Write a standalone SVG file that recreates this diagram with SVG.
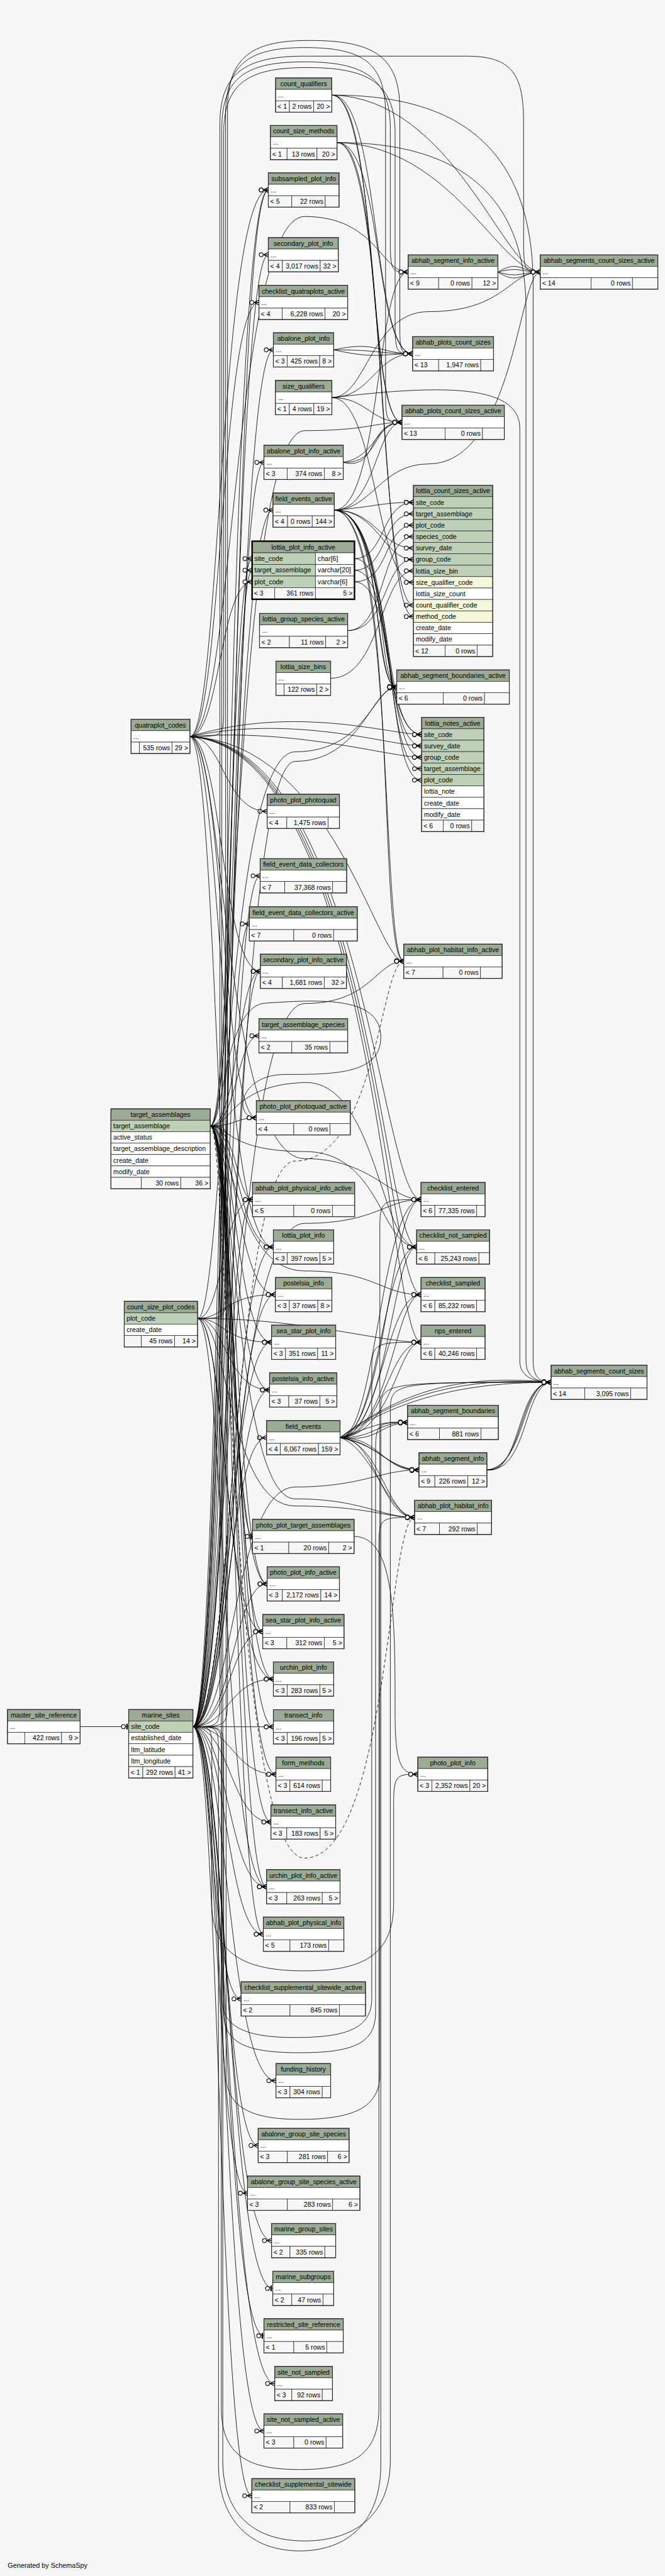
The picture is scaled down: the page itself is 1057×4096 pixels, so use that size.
<svg xmlns="http://www.w3.org/2000/svg" width="1057" height="4096" viewBox="0 0 1057 4096">
<style>
.t{font-family:"Liberation Sans",Arial,Helvetica,sans-serif;font-size:14px;fill:#000}
.c{text-anchor:middle}
.r{text-anchor:end}
.h{fill:#9bab96;stroke:#2a2a2a;stroke-width:1}
.k{fill:#bed1b8;stroke:#2a2a2a;stroke-width:1}
.i{fill:#f4f7da;stroke:#2a2a2a;stroke-width:1}
.w{fill:#ffffff;stroke:#2a2a2a;stroke-width:1}
.f{fill:#f7f7f7;stroke:#2a2a2a;stroke-width:1}
.o{fill:none;stroke:#2a2a2a;stroke-width:1.6}
.b{fill:none;stroke:#000;stroke-width:3.2}
path.e{fill:none;stroke:#000;stroke-width:1.1;marker-end:url(#cf)}
path.z{marker-end:url(#zo)}
path.d{stroke-dasharray:7 5}
</style>
<defs>
<marker id="cf" markerUnits="userSpaceOnUse" markerWidth="40" markerHeight="20" viewBox="-30 -10 40 20" refX="0" refY="0" orient="auto" overflow="visible">
<path d="M-10 0L0 -5M-10 0L0 0M-10 0L0 5" fill="none" stroke="#000" stroke-width="1.5"/>
<circle cx="-15" cy="0" r="4.2" fill="#f7f7f7" stroke="#000" stroke-width="1.4"/>
</marker>
<marker id="zo" markerUnits="userSpaceOnUse" markerWidth="40" markerHeight="20" viewBox="-30 -10 40 20" refX="0" refY="0" orient="auto" overflow="visible">
<rect x="-5" y="-6" width="3" height="12" fill="#000"/>
<circle cx="-11" cy="0" r="4.2" fill="#f7f7f7" stroke="#000" stroke-width="1.4"/>
</marker>
</defs>
<rect width="1057" height="4096" fill="#f7f7f7"/>
<g transform="scale(0.7566)">
<g id="connectors">
<path class="e" d="M405.3 3628.7C470 3628.7 470 399.3 563.7 399.3"/>
<path class="e" d="M405.3 3628.7C475 3628.7 475 535.3 563.7 535.3"/>
<path class="e" d="M405.3 3628.7C480 3628.7 480 735.3 574.3 735.3"/>
<path class="e" d="M405.3 3628.7C478 3628.7 478 971.7 554.5 971.7"/>
<path class="e" d="M405.3 3628.7C472 3628.7 472 1072 573.4 1072"/>
<path class="e" d="M405.3 3628.7C468 3628.7 468 1174 529.6 1174"/>
<path class="e" d="M405.3 3628.7C476 3628.7 476 1840.6 546.5 1840.6"/>
<path class="e" d="M405.3 3628.7C470 3628.7 470 1941.6 523.8 1941.6"/>
<path class="e" d="M405.3 3628.7C483 3628.7 483 2041.3 546.9 2041.3"/>
<path class="e" d="M405.3 3628.7C474 3628.7 474 2521 530.5 2521"/>
<path class="e" d="M405.3 3628.7C485 3628.7 485 2620.7 574.3 2620.7"/>
<path class="e" d="M405.3 3628.7C488 3628.7 488 2720.7 578.5 2720.7"/>
<path class="e" d="M405.3 3628.7C482 3628.7 482 2820.9 570.5 2820.9"/>
<path class="e" d="M405.3 3628.7C486 3628.7 486 2921.1 566.3 2921.1"/>
<path class="e" d="M405.3 3628.7C478 3628.7 478 3021.4 560 3021.4"/>
<path class="e" d="M405.3 3628.7C490 3628.7 490 3328.7 561.2 3328.7"/>
<path class="e" d="M405.3 3628.7C484 3628.7 484 3429 552 3429"/>
<path class="e" d="M405.3 3628.7C480 3628.7 480 3528.7 574.3 3528.7"/>
<path class="e" d="M405.3 3628.7L574.3 3629.1"/>
<path class="e" d="M405.3 3628.7C488 3628.7 488 3728.8 579.7 3728.8"/>
<path class="e" d="M405.3 3628.7C484 3628.7 484 3829.1 569.2 3829.1"/>
<path class="e" d="M405.3 3628.7C480 3628.7 480 3965.2 560 3965.2"/>
<path class="e" d="M405.3 3628.7C476 3628.7 476 4064.9 553.2 4064.9"/>
<path class="e" d="M405.3 3628.7C445 3628.7 445 4200.9 506.5 4200.9"/>
<path class="e" d="M405.3 3628.7C478 3628.7 478 4372.7 579.7 4372.7"/>
<path class="e" d="M405.3 3628.7C470 3628.7 470 4508.9 542.3 4508.9"/>
<path class="e" d="M405.3 3628.7C455 3628.7 455 4609.2 520 4609.2"/>
<path class="e" d="M405.3 3628.7C474 3628.7 474 4708.9 570.5 4708.9"/>
<path class="e z" d="M405.3 3628.7C478 3628.7 478 4809.2 573 4809.2"/>
<path class="e z" d="M405.3 3628.7C472 3628.7 472 4908.9 554.5 4908.9"/>
<path class="e" d="M405.3 3628.7C476 3628.7 476 5009.2 577.2 5009.2"/>
<path class="e" d="M405.3 3628.7C470 3628.7 470 5108.9 554.5 5108.9"/>
<path class="e" d="M405.3 3628.7C460 3628.7 460 5245 529 5245"/>
<path class="e" d="M441.7 2366.3C495 2366.3 495 399.3 563.7 399.3"/>
<path class="e" d="M441.7 2366.3C492 2366.3 492 1198.4 529.6 1198.4"/>
<path class="e" d="M441.7 2366.3C500 2366.3 500 2041.3 546.9 2041.3"/>
<path class="e" d="M441.7 2366.3C498 2366.3 498 2176.8 544 2176.8"/>
<path class="e" d="M441.7 2366.3C495 2366.3 495 2349.2 538.5 2349.2"/>
<path class="e" d="M441.7 2366.3C498 2366.3 498 2521 530.5 2521"/>
<path class="e" d="M441.7 2366.3C500 2366.3 500 2620.7 574.3 2620.7"/>
<path class="e" d="M441.7 2366.3C497 2366.3 497 2720.7 578.5 2720.7"/>
<path class="e" d="M441.7 2366.3C495 2366.3 495 2820.9 570.5 2820.9"/>
<path class="e" d="M441.7 2366.3C493 2366.3 493 2921.1 566.3 2921.1"/>
<path class="e z" d="M441.7 2366.3C490 2366.3 490 3229 530.5 3229"/>
<path class="e" d="M441.7 2366.3C496 2366.3 496 3328.7 561.2 3328.7"/>
<path class="e" d="M441.7 2366.3C494 2366.3 494 3429 552 3429"/>
<path class="e" d="M441.7 2366.3C492 2366.3 492 3528.7 574.3 3528.7"/>
<path class="e" d="M441.7 2366.3C496 2366.3 496 3629.1 574.3 3629.1"/>
<path class="e" d="M441.7 2366.3C494 2366.3 494 3728.8 579.7 3728.8"/>
<path class="e" d="M441.7 2366.3C492 2366.3 492 3829.1 569.2 3829.1"/>
<path class="e" d="M441.7 2366.3C494 2366.3 494 3965.2 560 3965.2"/>
<path class="e" d="M441.7 2366.3C490 2366.3 490 4064.9 553.2 4064.9"/>
<path class="e" d="M399 1548C462 1548 462 399.3 563.7 399.3"/>
<path class="e" d="M399 1548C465 1548 465 635.6 544 635.6"/>
<path class="e" d="M399 1548C462 1548 462 1222.8 529.6 1222.8"/>
<path class="e" d="M399 1548C470 1548 470 1705 561.2 1705"/>
<path class="e" d="M399 1548C466 1548 466 2041.3 546.9 2041.3"/>
<path class="e" d="M399 1548C468 1548 468 2349.2 538.5 2349.2"/>
<path class="e" d="M399 1548C464 1548 464 2620.7 574.3 2620.7"/>
<path class="e" d="M399 1548C462 1548 462 3328.7 561.2 3328.7"/>
<path class="e" d="M415 2770.8C472 2770.8 472 2720.7 578.5 2720.7"/>
<path class="e" d="M415 2770.8C470 2770.8 470 2820.9 570.5 2820.9"/>
<path class="e" d="M415 2770.8C474 2770.8 474 2921.1 566.3 2921.1"/>
<path class="e" d="M415 2770.8C472 2770.8 472 3429 552 3429"/>
<path class="e" d="M415 2770.8C476 2770.8 476 3528.7 574.3 3528.7"/>
<path class="e" d="M415 2770.8C470 2770.8 470 3965.2 560 3965.2"/>
<path class="e" d="M415 2770.8C468 2770.8 468 2521 530.5 2521"/>
<path class="e z" d="M168.3 3628.7L270.3 3628.7"/>
<path class="e" d="M697.2 199.8C800 199.8 780 743.5 866.8 743.5"/>
<path class="e" d="M697.2 199.8C795 199.8 770 887.6 844.5 887.6"/>
<path class="e" d="M697.2 199.8C810 199.8 790 1271.8 868.5 1271.8"/>
<path class="e" d="M697.2 199.8C950 205 1060 571.7 1135 571.7"/>
<path class="e" d="M697.2 199.8C900 199.8 1120 260 1120 600L1120 2860C1120 2895 1135 2905 1157.7 2905"/>
<path class="e" d="M708 299.6C805 299.6 785 743.5 866.8 743.5"/>
<path class="e" d="M708 299.6C800 299.6 775 887.6 844.5 887.6"/>
<path class="e" d="M708 299.6C815 299.6 795 1295.8 868.5 1295.8"/>
<path class="e" d="M708 299.6C950 305 1050 571.7 1135 571.7"/>
<path class="e" d="M708 299.6C900 299.6 1105 360 1105 650L1105 2860C1105 2895 1130 2905 1157.7 2905"/>
<path class="e" d="M697.2 835.6C780 835.6 790 743.5 866.8 743.5"/>
<path class="e" d="M697.2 835.6C770 835.6 780 887.6 844.5 887.6"/>
<path class="e" d="M697.2 835.6C790 835.6 790 1223.8 868.5 1223.8"/>
<path class="e" d="M697.2 835.6C900 812 1092 800 1092 900L1092 2860C1092 2895 1125 2905 1157.7 2905"/>
<path class="e" d="M697.2 835.6C770 835.6 780 655 900 655C1060 655 1070 571.7 1135 571.7"/>
<path class="e" d="M701 735.3C790 715 800 743.5 866.8 743.5"/>
<path class="e" d="M701 735.3C790 735 800 743.5 866.8 743.5"/>
<path class="e" d="M701 735.3C790 755 800 743.5 866.8 743.5"/>
<path class="e" d="M721.1 971.7C790 960 790 887.6 844.5 887.6"/>
<path class="e" d="M721.1 971.7C800 975 780 887.6 844.5 887.6"/>
<path class="e" d="M721.1 971.7C795 990 770 887.6 844.5 887.6"/>
<path class="e" d="M702.2 1072C790 1065 800 1055.8 868.5 1055.8"/>
<path class="e" d="M702.2 1072C790 1072 800 1151.8 868.5 1151.8"/>
<path class="e" d="M702.2 1072C795 1072 805 1175.8 868.5 1175.8"/>
<path class="e" d="M702.2 1072C820 1072 790 1543.6 885.7 1543.6"/>
<path class="e" d="M702.2 1072C825 1072 795 1567.6 885.7 1567.6"/>
<path class="e" d="M702.2 1072C830 1072 800 1591.6 885.7 1591.6"/>
<path class="e" d="M702.2 1072C810 1072 780 1443.9 833.5 1443.9"/>
<path class="e" d="M702.2 1072C815 1080 790 1440 833.5 1443.9"/>
<path class="e" d="M702.2 1072C805 1070 785 1450 833.5 1443.9"/>
<path class="e" d="M702.2 1072C800 1072 790 571.7 857.5 571.7"/>
<path class="e" d="M702.2 1072C790 1072 790 887.6 844.5 887.6"/>
<path class="e" d="M702.2 1072C830 1072 800 2020.2 848.2 2020.2"/>
<path class="e" d="M702.2 1072C840 1080 790 2015 848.2 2020.2"/>
<path class="e" d="M702.2 1072C780 1072 800 975 900 975C1080 975 1090 571.7 1135 571.7"/>
<path class="e" d="M744.7 1174C810 1174 800 1055.8 868.5 1055.8"/>
<path class="e" d="M744.7 1174C830 1174 800 1543.6 885.7 1543.6"/>
<path class="e" d="M744.7 1198.4C815 1198.4 800 1079.8 868.5 1079.8"/>
<path class="e" d="M744.7 1198.4C835 1198.4 805 1615.6 885.7 1615.6"/>
<path class="e" d="M744.7 1222.8C820 1222.8 805 1103.8 868.5 1103.8"/>
<path class="e" d="M744.7 1222.8C840 1222.8 810 1639.6 885.7 1639.6"/>
<path class="e" d="M730.4 1325.2C810 1325.2 800 1127.8 868.5 1127.8"/>
<path class="e" d="M730.4 1325.2C815 1325.2 805 1175.8 868.5 1175.8"/>
<path class="e" d="M694.6 1425.5C800 1425.5 800 1199.8 868.5 1199.8"/>
<path class="e" d="M399 1548C620 1480 820 1543.6 885.7 1543.6"/>
<path class="e" d="M399 1548C620 1500 820 1567.6 885.7 1567.6"/>
<path class="e" d="M399 1548C620 1530 820 1591.6 885.7 1591.6"/>
<path class="e" d="M399 1548C700 1560 790 2020.2 848.2 2020.2"/>
<path class="e" d="M399 1548C760 1560 800 2521 884.4 2521"/>
<path class="e" d="M399 1548C770 1565 805 2620.7 875.2 2620.7"/>
<path class="e" d="M399 1548C780 1570 810 2720.7 884.4 2720.7"/>
<path class="e" d="M399 1548C790 1575 815 2820.9 884.4 2820.9"/>
<path class="e" d="M714.4 3021.4C790 3021 800 2521 884.4 2521"/>
<path class="e" d="M714.4 3021.4C810 3010 820 2521 884.4 2521"/>
<path class="e" d="M714.4 3021.4C795 3021 805 2620.7 875.2 2620.7"/>
<path class="e" d="M714.4 3021.4C815 3015 825 2620.7 875.2 2620.7"/>
<path class="e" d="M714.4 3021.4C800 3021 810 2720.7 884.4 2720.7"/>
<path class="e" d="M714.4 3021.4C820 3015 830 2720.7 884.4 2720.7"/>
<path class="e" d="M714.4 3021.4C805 3021 815 2820.9 884.4 2820.9"/>
<path class="e" d="M714.4 3021.4C825 3015 835 2820.9 884.4 2820.9"/>
<path class="e" d="M714.4 3021.4C790 3021.4 790 2989.4 856.2 2989.4"/>
<path class="e" d="M714.4 3021.4C780 3000 800 2985 856.2 2989.4"/>
<path class="e" d="M714.4 3021.4C800 3030 790 2995 856.2 2989.4"/>
<path class="e" d="M714.4 3021.4C800 3021.4 800 3089.1 880.2 3089.1"/>
<path class="e" d="M714.4 3021.4C790 3030 810 3085 880.2 3089.1"/>
<path class="e" d="M714.4 3021.4C810 3040 820 3095 880.2 3089.1"/>
<path class="e" d="M714.4 3021.4C790 3021.4 800 3188.9 871 3188.9"/>
<path class="e" d="M714.4 3021.4C800 3030 810 3185 871 3188.9"/>
<path class="e" d="M714.4 3021.4C780 3040 820 3192 871 3188.9"/>
<path class="e" d="M714.4 3021.4C850 2920 1000 2895 1157.7 2905"/>
<path class="e" d="M714.4 3021.4C850 2930 1000 2905 1157.7 2905"/>
<path class="e" d="M714.4 3021.4C860 2910 990 2890 1157.7 2905"/>
<path class="e" d="M743.9 3229C830 3229 830 3400 830 3600C830 3700 840 3728.8 877.7 3728.8"/>
<path class="e" d="M1046 571.7C1090 545 1095 571.7 1135 571.7"/>
<path class="e" d="M1046 571.7C1090 560 1095 571.7 1135 571.7"/>
<path class="e" d="M1046 571.7C1090 585 1095 571.7 1135 571.7"/>
<path class="e" d="M1046 571.7C1090 600 1095 571.7 1135 571.7"/>
<path class="e" d="M1022.9 3089.1C1100 3089.1 1090 2905 1157.7 2905"/>
<path class="e" d="M1022.9 3089.1C1105 3080 1095 2905 1157.7 2905"/>
<path class="e" d="M1022.9 3089.1C1110 3095 1100 2910 1157.7 2905"/>
<path class="e" d="M1022.9 3089.1C1095 3100 1085 2905 1157.7 2905"/>
<path class="e" d="M405.3 3628.7C459 3628.7 459 3628.7 459 3690L459 5180C459 5300 530 5361 630 5361C730 5361 800 5300 800 5180L800 2965C800 2905 805 2905 1157.7 2905"/>
<path class="e" d="M441.7 2366.3C468 2366.3 468 2366.3 468 2420L468 5170C468 5290 540 5340 640 5340C740 5340 820 5290 820 5170L820 2965C820 2905 830 2905 1157.7 2905"/>
<path class="e" d="M441.7 2366.3C465 2366.3 465 2366.3 465 2420L465 5060C465 5160 520 5190 630 5190C740 5190 796 5160 796 5060L796 3250C796 3188.9 800 3188.9 871 3188.9"/>
<path class="e" d="M441.7 2366.3C475 2366.3 475 2366.3 475 2420L475 4360C475 4430 530 4454 630 4454C740 4454 798 4430 798 4360L798 2580C798 2521 805 2521 884.4 2521"/>
<path class="e" d="M405.3 3628.7C470 3628.7 470 3628.7 470 3690L470 4230C470 4295 520 4314 630 4314C740 4314 789 4295 789 4230L789 3050C789 2989.4 795 2989.4 856.2 2989.4"/>
<path class="e" d="M405.3 3628.7C466 3628.7 466 3628.7 466 3690L466 4200C466 4262 520 4282 620 4282C730 4282 781 4262 781 4200L781 2880C781 2820.9 790 2820.9 884.4 2820.9"/>
<path class="e" d="M405.3 3628.7C445 3628.7 445 3628.7 445 3690L445 4000C445 4110 520 4142 640 4142C760 4142 827 4110 827 4000L827 3790C827 3728.8 835 3728.8 877.7 3728.8"/>
<path class="e" d="M405.3 3628.7C490 3628.7 490 3125 620 3125C760 3125 800 3089.1 880.2 3089.1"/>
<path class="e" d="M441.7 2366.3C492 2366.3 492 3150 620 3150C760 3150 800 3188.9 871 3188.9"/>
<path class="e" d="M415 2770.8C480 2770.8 480 3165 620 3165C770 3165 810 3188.9 871 3188.9"/>
<path class="e" d="M399 1548C470 1548 470 2435 640 2435C780 2435 820 2521 884.4 2521"/>
<path class="e" d="M441.7 2366.3C480 2366.3 480 2420 640 2420C800 2420 800 2620.7 875.2 2620.7"/>
<path class="e" d="M441.7 2366.3C486 2366.3 486 2280 640 2275C790 2270 800 2620.7 875.2 2620.7"/>
<path class="e" d="M441.7 2366.3C470 2366.3 470 2109 560 2108C680 2100 800 2095 800 2180C800 2258 700 2258 600 2258C500 2258 490 2349.2 538.5 2349.2"/>
<path class="e" d="M405.3 3628.7C462 3628.7 462 3628.7 462 3560L462 260C462 150 520 118 640 118L980 118C1080 118 1100 160 1100 260L1100 510C1100 571.7 1105 571.7 1135 571.7"/>
<path class="e" d="M441.7 2366.3C466 2366.3 466 2366.3 466 2300L466 270C466 160 520 130 640 130C760 130 820 160 820 270L820 510C820 571.7 825 571.7 857.5 571.7"/>
<path class="e" d="M399 1548C470 1548 470 1548 470 1490L470 280C470 172 525 142 645 142C770 142 830 172 830 280L830 680C830 743.5 835 743.5 866.8 743.5"/>
<path class="e" d="M415 2770.8C474 2770.8 474 2770.8 474 2710L474 240C474 130 530 100 640 100C760 100 810 130 810 240L810 830C810 887.6 815 887.6 844.5 887.6"/>
<path class="e" d="M405.3 3628.7C478 3628.7 478 3628.7 478 3560L478 230C478 115 535 85 650 85C780 85 840 115 840 230L840 690C840 743.5 845 743.5 866.8 743.5"/>
<path class="e" d="M399 1548C490 1548 490 455 640 455C790 455 800 571.7 857.5 571.7"/>
<path class="e" d="M441.7 2366.3C495 2366.3 495 905 640 905C770 905 790 887.6 844.5 887.6"/>
<path class="e" d="M405.3 3628.7C485 3628.7 485 1600 620 1600C760 1600 780 1443.9 833.5 1443.9"/>
<path class="e" d="M405.3 3628.7C480 3628.7 480 2109 640 2109C780 2109 790 2020.2 848.2 2020.2"/>
<path class="e" d="M415 2770.8C470 2770.8 470 1580 620 1580C770 1580 785 1443.9 833.5 1443.9"/>
<path class="e" d="M441.7 2366.3C488 2366.3 488 2671 640 2671C790 2671 800 2720.7 884.4 2720.7"/>
<path class="e" d="M405.3 3628.7C484 3628.7 484 2571 640 2571C790 2571 810 2521 884.4 2521"/>
<path class="e" d="M415 2770.8C640 2770.8 800 2820.9 884.4 2820.9"/>
<path class="e d" d="M405.3 3628.7C488 3628.7 488 2440 620 2440C790 2440 800 2020.2 848.2 2020.2"/>
<path class="e d" d="M441.7 2366.3C480 2366.3 480 3905 640 3905C815 3905 815 3188.9 871 3188.9"/>
</g>

<g id="count_qualifiers" transform="translate(579,163.8)"><rect class="h" width="118" height="24"/><text class="t c" x="59" y="17">count_qualifiers</text><rect class="w" y="24" width="118" height="24"/><text class="t" x="5" y="41">...</text><rect class="f" y="48" width="29" height="24"/><rect class="f" x="29" y="48" width="51" height="24"/><rect class="f" x="80" y="48" width="38" height="24"/><text class="t" x="4" y="65">&lt; 1</text><text class="t r" x="76" y="65">2 rows</text><text class="t r" x="114" y="65">20 &gt;</text><rect class="o" width="118" height="72"/></g>
<g id="count_size_methods" transform="translate(568,263.6)"><rect class="h" width="140" height="24"/><text class="t c" x="70" y="17">count_size_methods</text><rect class="w" y="24" width="140" height="24"/><text class="t" x="5" y="41">...</text><rect class="f" y="48" width="35" height="24"/><rect class="f" x="35" y="48" width="63" height="24"/><rect class="f" x="98" y="48" width="42" height="24"/><text class="t" x="4" y="65">&lt; 1</text><text class="t r" x="94" y="65">13 rows</text><text class="t r" x="136" y="65">20 &gt;</text><rect class="o" width="140" height="72"/></g>
<g id="subsampled_plot_info" transform="translate(563.7,363.3)"><rect class="h" width="148.6" height="24"/><text class="t c" x="74.3" y="17">subsampled_plot_info</text><rect class="w" y="24" width="148.6" height="24"/><text class="t" x="5" y="41">...</text><rect class="f" y="48" width="49.3" height="24"/><rect class="f" x="49.3" y="48" width="70.3" height="24"/><rect class="f" x="119.6" y="48" width="29" height="24"/><text class="t" x="4" y="65">&lt; 5</text><text class="t r" x="115.6" y="65">22 rows</text><rect class="o" width="148.6" height="72"/></g>
<g id="secondary_plot_info" transform="translate(563.7,499.3)"><rect class="h" width="147" height="24"/><text class="t c" x="73.5" y="17">secondary_plot_info</text><rect class="w" y="24" width="147" height="24"/><text class="t" x="5" y="41">...</text><rect class="f" y="48" width="29.5" height="24"/><rect class="f" x="29.5" y="48" width="79.5" height="24"/><rect class="f" x="109" y="48" width="38" height="24"/><text class="t" x="4" y="65">&lt; 4</text><text class="t r" x="105" y="65">3,017 rows</text><text class="t r" x="143" y="65">32 &gt;</text><rect class="o" width="147" height="72"/></g>
<g id="checklist_quatraplots_active" transform="translate(544,599.6)"><rect class="h" width="186.4" height="24"/><text class="t c" x="93.2" y="17">checklist_quatraplots_active</text><rect class="w" y="24" width="186.4" height="24"/><text class="t" x="5" y="41">...</text><rect class="f" y="48" width="48.8" height="24"/><rect class="f" x="48.8" y="48" width="90" height="24"/><rect class="f" x="138.8" y="48" width="47.6" height="24"/><text class="t" x="4" y="65">&lt; 4</text><text class="t r" x="134.8" y="65">6,228 rows</text><text class="t r" x="182.4" y="65">20 &gt;</text><rect class="o" width="186.4" height="72"/></g>
<g id="abalone_plot_info" transform="translate(574.3,699.3)"><rect class="h" width="126.7" height="24"/><text class="t c" x="63.3" y="17">abalone_plot_info</text><rect class="w" y="24" width="126.7" height="24"/><text class="t" x="5" y="41">...</text><rect class="f" y="48" width="29" height="24"/><rect class="f" x="29" y="48" width="68.2" height="24"/><rect class="f" x="97.2" y="48" width="29.5" height="24"/><text class="t" x="4" y="65">&lt; 3</text><text class="t r" x="93.2" y="65">425 rows</text><text class="t r" x="122.7" y="65">8 &gt;</text><rect class="o" width="126.7" height="72"/></g>
<g id="size_qualifiers" transform="translate(578.5,799.6)"><rect class="h" width="118.7" height="24"/><text class="t c" x="59.3" y="17">size_qualifiers</text><rect class="w" y="24" width="118.7" height="24"/><text class="t" x="5" y="41">...</text><rect class="f" y="48" width="29.4" height="24"/><rect class="f" x="29.4" y="48" width="51.4" height="24"/><rect class="f" x="80.8" y="48" width="37.9" height="24"/><text class="t" x="4" y="65">&lt; 1</text><text class="t r" x="76.8" y="65">4 rows</text><text class="t r" x="114.7" y="65">19 &gt;</text><rect class="o" width="118.7" height="72"/></g>
<g id="abalone_plot_info_active" transform="translate(554.5,935.7)"><rect class="h" width="166.6" height="24"/><text class="t c" x="83.3" y="17">abalone_plot_info_active</text><rect class="w" y="24" width="166.6" height="24"/><text class="t" x="5" y="41">...</text><rect class="f" y="48" width="48.8" height="24"/><rect class="f" x="48.8" y="48" width="77.9" height="24"/><rect class="f" x="126.7" y="48" width="39.9" height="24"/><text class="t" x="4" y="65">&lt; 3</text><text class="t r" x="122.7" y="65">374 rows</text><text class="t r" x="162.6" y="65">8 &gt;</text><rect class="o" width="166.6" height="72"/></g>
<g id="field_events_active" transform="translate(573.4,1036)"><rect class="h" width="128.8" height="24"/><text class="t c" x="64.4" y="17">field_events_active</text><rect class="w" y="24" width="128.8" height="24"/><text class="t" x="5" y="41">...</text><rect class="f" y="48" width="30.7" height="24"/><rect class="f" x="30.7" y="48" width="51.8" height="24"/><rect class="f" x="82.5" y="48" width="46.3" height="24"/><text class="t" x="4" y="65">&lt; 4</text><text class="t r" x="78.5" y="65">0 rows</text><text class="t r" x="124.8" y="65">144 &gt;</text><rect class="o" width="128.8" height="72"/></g>
<g id="lottia_plot_info_active" transform="translate(529.6,1137.4)"><rect class="h" width="215.1" height="24.4"/><text class="t c" x="107.5" y="17.2">lottia_plot_info_active</text><rect class="k" y="24.4" width="133" height="24.4"/><text class="t" x="5" y="41.6">site_code</text><rect class="w" x="133" y="24.4" width="82.1" height="24.4"/><text class="t" x="138" y="41.6">char[6]</text><rect class="k" y="48.8" width="133" height="24.4"/><text class="t" x="5" y="66">target_assemblage</text><rect class="w" x="133" y="48.8" width="82.1" height="24.4"/><text class="t" x="138" y="66">varchar[20]</text><rect class="k" y="73.2" width="133" height="24.4"/><text class="t" x="5" y="90.4">plot_code</text><rect class="w" x="133" y="73.2" width="82.1" height="24.4"/><text class="t" x="138" y="90.4">varchar[6]</text><rect class="f" y="97.6" width="47.6" height="24.4"/><rect class="f" x="47.6" y="97.6" width="85.4" height="24.4"/><rect class="f" x="133" y="97.6" width="82.1" height="24.4"/><text class="t" x="4" y="114.8">&lt; 3</text><text class="t r" x="129" y="114.8">361 rows</text><text class="t r" x="211.1" y="114.8">5 &gt;</text><rect class="b" width="215.1" height="122"/></g>
<g id="lottia_group_species_active" transform="translate(545.2,1289.2)"><rect class="h" width="185.2" height="24"/><text class="t c" x="92.6" y="17">lottia_group_species_active</text><rect class="w" y="24" width="185.2" height="24"/><text class="t" x="5" y="41">...</text><rect class="f" y="48" width="62.8" height="24"/><rect class="f" x="62.8" y="48" width="76.1" height="24"/><rect class="f" x="138.9" y="48" width="46.3" height="24"/><text class="t" x="4" y="65">&lt; 2</text><text class="t r" x="134.9" y="65">11 rows</text><text class="t r" x="181.2" y="65">2 &gt;</text><rect class="o" width="185.2" height="72"/></g>
<g id="lottia_size_bins" transform="translate(579.7,1389.5)"><rect class="h" width="114.9" height="24"/><text class="t c" x="57.4" y="17">lottia_size_bins</text><rect class="w" y="24" width="114.9" height="24"/><text class="t" x="5" y="41">...</text><rect class="f" y="48" width="17.3" height="24"/><rect class="f" x="17.3" y="48" width="68.2" height="24"/><rect class="f" x="85.5" y="48" width="29.4" height="24"/><text class="t r" x="81.5" y="65">122 rows</text><text class="t r" x="110.9" y="65">2 &gt;</text><rect class="o" width="114.9" height="72"/></g>
<g id="photo_plot_photoquad" transform="translate(561.2,1669.1)"><rect class="h" width="151.9" height="24"/><text class="t c" x="75.9" y="17">photo_plot_photoquad</text><rect class="w" y="24" width="151.9" height="24"/><text class="t" x="5" y="41">...</text><rect class="f" y="48" width="41.3" height="24"/><rect class="f" x="41.3" y="48" width="86.7" height="24"/><rect class="f" x="128" y="48" width="23.9" height="24"/><text class="t" x="4" y="65">&lt; 4</text><text class="t r" x="124" y="65">1,475 rows</text><rect class="o" width="151.9" height="72"/></g>
<g id="field_event_data_collectors" transform="translate(546.5,1804.6)"><rect class="h" width="181.8" height="24"/><text class="t c" x="90.9" y="17">field_event_data_collectors</text><rect class="w" y="24" width="181.8" height="24"/><text class="t" x="5" y="41">...</text><rect class="f" y="48" width="51.7" height="24"/><rect class="f" x="51.7" y="48" width="100.6" height="24"/><rect class="f" x="152.3" y="48" width="29.5" height="24"/><text class="t" x="4" y="65">&lt; 7</text><text class="t r" x="148.3" y="65">37,368 rows</text><rect class="o" width="181.8" height="72"/></g>
<g id="field_event_data_collectors_active" transform="translate(523.8,1905.6)"><rect class="h" width="226.8" height="24"/><text class="t c" x="113.4" y="17">field_event_data_collectors_active</text><rect class="w" y="24" width="226.8" height="24"/><text class="t" x="5" y="41">...</text><rect class="f" y="48" width="93.4" height="24"/><rect class="f" x="93.4" y="48" width="83.7" height="24"/><rect class="f" x="177.1" y="48" width="49.7" height="24"/><text class="t" x="4" y="65">&lt; 7</text><text class="t r" x="173.1" y="65">0 rows</text><rect class="o" width="226.8" height="72"/></g>
<g id="secondary_plot_info_active" transform="translate(546.9,2005.3)"><rect class="h" width="181" height="24"/><text class="t c" x="90.5" y="17">secondary_plot_info_active</text><rect class="w" y="24" width="181" height="24"/><text class="t" x="5" y="41">...</text><rect class="f" y="48" width="46.3" height="24"/><rect class="f" x="46.3" y="48" width="88" height="24"/><rect class="f" x="134.3" y="48" width="46.7" height="24"/><text class="t" x="4" y="65">&lt; 4</text><text class="t r" x="130.3" y="65">1,681 rows</text><text class="t r" x="177" y="65">32 &gt;</text><rect class="o" width="181" height="72"/></g>
<g id="target_assemblage_species" transform="translate(544,2140.8)"><rect class="h" width="186.4" height="24"/><text class="t c" x="93.2" y="17">target_assemblage_species</text><rect class="w" y="24" width="186.4" height="24"/><text class="t" x="5" y="41">...</text><rect class="f" y="48" width="69" height="24"/><rect class="f" x="69" y="48" width="80" height="24"/><rect class="f" x="149" y="48" width="37.4" height="24"/><text class="t" x="4" y="65">&lt; 2</text><text class="t r" x="145" y="65">35 rows</text><rect class="o" width="186.4" height="72"/></g>
<g id="photo_plot_photoquad_active" transform="translate(538.5,2313.2)"><rect class="h" width="197.4" height="24"/><text class="t c" x="98.7" y="17">photo_plot_photoquad_active</text><rect class="w" y="24" width="197.4" height="24"/><text class="t" x="5" y="41">...</text><rect class="f" y="48" width="78.7" height="24"/><rect class="f" x="78.7" y="48" width="76.2" height="24"/><rect class="f" x="154.9" y="48" width="42.5" height="24"/><text class="t" x="4" y="65">&lt; 4</text><text class="t r" x="150.9" y="65">0 rows</text><rect class="o" width="197.4" height="72"/></g>
<g id="abhab_plot_physical_info_active" transform="translate(530.5,2485)"><rect class="h" width="214.6" height="24"/><text class="t c" x="107.3" y="17">abhab_plot_physical_info_active</text><rect class="w" y="24" width="214.6" height="24"/><text class="t" x="5" y="41">...</text><rect class="f" y="48" width="86.7" height="24"/><rect class="f" x="86.7" y="48" width="81.2" height="24"/><rect class="f" x="167.9" y="48" width="46.7" height="24"/><text class="t" x="4" y="65">&lt; 5</text><text class="t r" x="163.9" y="65">0 rows</text><rect class="o" width="214.6" height="72"/></g>
<g id="lottia_plot_info" transform="translate(574.3,2584.7)"><rect class="h" width="126.7" height="24"/><text class="t c" x="63.3" y="17">lottia_plot_info</text><rect class="w" y="24" width="126.7" height="24"/><text class="t" x="5" y="41">...</text><rect class="f" y="48" width="29" height="24"/><rect class="f" x="29" y="48" width="68.6" height="24"/><rect class="f" x="97.6" y="48" width="29.1" height="24"/><text class="t" x="4" y="65">&lt; 3</text><text class="t r" x="93.6" y="65">397 rows</text><text class="t r" x="122.7" y="65">5 &gt;</text><rect class="o" width="126.7" height="72"/></g>
<g id="postelsia_info" transform="translate(578.5,2684.7)"><rect class="h" width="118.7" height="24"/><text class="t c" x="59.3" y="17">postelsia_info</text><rect class="w" y="24" width="118.7" height="24"/><text class="t" x="5" y="41">...</text><rect class="f" y="48" width="29.4" height="24"/><rect class="f" x="29.4" y="48" width="59.8" height="24"/><rect class="f" x="89.2" y="48" width="29.5" height="24"/><text class="t" x="4" y="65">&lt; 3</text><text class="t r" x="85.2" y="65">37 rows</text><text class="t r" x="114.7" y="65">8 &gt;</text><rect class="o" width="118.7" height="72"/></g>
<g id="sea_star_plot_info" transform="translate(570.5,2784.9)"><rect class="h" width="134.7" height="24"/><text class="t c" x="67.3" y="17">sea_star_plot_info</text><rect class="w" y="24" width="134.7" height="24"/><text class="t" x="5" y="41">...</text><rect class="f" y="48" width="29.4" height="24"/><rect class="f" x="29.4" y="48" width="67.4" height="24"/><rect class="f" x="96.8" y="48" width="37.9" height="24"/><text class="t" x="4" y="65">&lt; 3</text><text class="t r" x="92.8" y="65">351 rows</text><text class="t r" x="130.7" y="65">11 &gt;</text><rect class="o" width="134.7" height="72"/></g>
<g id="postelsia_info_active" transform="translate(566.3,2885.1)"><rect class="h" width="141.4" height="24"/><text class="t c" x="70.7" y="17">postelsia_info_active</text><rect class="w" y="24" width="141.4" height="24"/><text class="t" x="5" y="41">...</text><rect class="f" y="48" width="40.4" height="24"/><rect class="f" x="40.4" y="48" width="65.2" height="24"/><rect class="f" x="105.6" y="48" width="35.8" height="24"/><text class="t" x="4" y="65">&lt; 3</text><text class="t r" x="101.6" y="65">37 rows</text><text class="t r" x="137.4" y="65">5 &gt;</text><rect class="o" width="141.4" height="72"/></g>
<g id="field_events" transform="translate(560,2985.4)"><rect class="h" width="154.4" height="24"/><text class="t c" x="77.2" y="17">field_events</text><rect class="w" y="24" width="154.4" height="24"/><text class="t" x="5" y="41">...</text><rect class="f" y="48" width="29" height="24"/><rect class="f" x="29" y="48" width="80" height="24"/><rect class="f" x="109" y="48" width="45.4" height="24"/><text class="t" x="4" y="65">&lt; 4</text><text class="t r" x="105" y="65">6,067 rows</text><text class="t r" x="150.4" y="65">159 &gt;</text><rect class="o" width="154.4" height="72"/></g>
<g id="photo_plot_target_assemblages" transform="translate(530.5,3193)"><rect class="h" width="213.4" height="24"/><text class="t c" x="106.7" y="17">photo_plot_target_assemblages</text><rect class="w" y="24" width="213.4" height="24"/><text class="t" x="5" y="41">...</text><rect class="f" y="48" width="76.2" height="24"/><rect class="f" x="76.2" y="48" width="84.1" height="24"/><rect class="f" x="160.3" y="48" width="53.1" height="24"/><text class="t" x="4" y="65">&lt; 1</text><text class="t r" x="156.3" y="65">20 rows</text><text class="t r" x="209.4" y="65">2 &gt;</text><rect class="o" width="213.4" height="72"/></g>
<g id="photo_plot_info_active" transform="translate(561.2,3292.7)"><rect class="h" width="151.9" height="24"/><text class="t c" x="75.9" y="17">photo_plot_info_active</text><rect class="w" y="24" width="151.9" height="24"/><text class="t" x="5" y="41">...</text><rect class="f" y="48" width="32" height="24"/><rect class="f" x="32" y="48" width="80.8" height="24"/><rect class="f" x="112.8" y="48" width="39.1" height="24"/><text class="t" x="4" y="65">&lt; 3</text><text class="t r" x="108.8" y="65">2,172 rows</text><text class="t r" x="147.9" y="65">14 &gt;</text><rect class="o" width="151.9" height="72"/></g>
<g id="sea_star_plot_info_active" transform="translate(552,3393)"><rect class="h" width="170.8" height="24"/><text class="t c" x="85.4" y="17">sea_star_plot_info_active</text><rect class="w" y="24" width="170.8" height="24"/><text class="t" x="5" y="41">...</text><rect class="f" y="48" width="50.5" height="24"/><rect class="f" x="50.5" y="48" width="78.7" height="24"/><rect class="f" x="129.2" y="48" width="41.6" height="24"/><text class="t" x="4" y="65">&lt; 3</text><text class="t r" x="125.2" y="65">312 rows</text><text class="t r" x="166.8" y="65">5 &gt;</text><rect class="o" width="170.8" height="72"/></g>
<g id="urchin_plot_info" transform="translate(574.3,3492.7)"><rect class="h" width="126.7" height="24"/><text class="t c" x="63.3" y="17">urchin_plot_info</text><rect class="w" y="24" width="126.7" height="24"/><text class="t" x="5" y="41">...</text><rect class="f" y="48" width="29" height="24"/><rect class="f" x="29" y="48" width="68.6" height="24"/><rect class="f" x="97.6" y="48" width="29.1" height="24"/><text class="t" x="4" y="65">&lt; 3</text><text class="t r" x="93.6" y="65">283 rows</text><text class="t r" x="122.7" y="65">5 &gt;</text><rect class="o" width="126.7" height="72"/></g>
<g id="transect_info" transform="translate(574.3,3593.1)"><rect class="h" width="126.7" height="24"/><text class="t c" x="63.3" y="17">transect_info</text><rect class="w" y="24" width="126.7" height="24"/><text class="t" x="5" y="41">...</text><rect class="f" y="48" width="29" height="24"/><rect class="f" x="29" y="48" width="68.6" height="24"/><rect class="f" x="97.6" y="48" width="29.1" height="24"/><text class="t" x="4" y="65">&lt; 3</text><text class="t r" x="93.6" y="65">196 rows</text><text class="t r" x="122.7" y="65">5 &gt;</text><rect class="o" width="126.7" height="72"/></g>
<g id="form_methods" transform="translate(579.7,3692.8)"><rect class="h" width="114.9" height="24"/><text class="t c" x="57.4" y="17">form_methods</text><rect class="w" y="24" width="114.9" height="24"/><text class="t" x="5" y="41">...</text><rect class="f" y="48" width="29.5" height="24"/><rect class="f" x="29.5" y="48" width="67.8" height="24"/><rect class="f" x="97.3" y="48" width="17.6" height="24"/><text class="t" x="4" y="65">&lt; 3</text><text class="t r" x="93.3" y="65">614 rows</text><rect class="o" width="114.9" height="72"/></g>
<g id="transect_info_active" transform="translate(569.2,3793.1)"><rect class="h" width="136" height="24"/><text class="t c" x="68" y="17">transect_info_active</text><rect class="w" y="24" width="136" height="24"/><text class="t" x="5" y="41">...</text><rect class="f" y="48" width="33.3" height="24"/><rect class="f" x="33.3" y="48" width="70.2" height="24"/><rect class="f" x="103.5" y="48" width="32.5" height="24"/><text class="t" x="4" y="65">&lt; 3</text><text class="t r" x="99.5" y="65">183 rows</text><text class="t r" x="132" y="65">5 &gt;</text><rect class="o" width="136" height="72"/></g>
<g id="urchin_plot_info_active" transform="translate(560,3929.2)"><rect class="h" width="154.4" height="24"/><text class="t c" x="77.2" y="17">urchin_plot_info_active</text><rect class="w" y="24" width="154.4" height="24"/><text class="t" x="5" y="41">...</text><rect class="f" y="48" width="42.5" height="24"/><rect class="f" x="42.5" y="48" width="74.5" height="24"/><rect class="f" x="117" y="48" width="37.4" height="24"/><text class="t" x="4" y="65">&lt; 3</text><text class="t r" x="113" y="65">263 rows</text><text class="t r" x="150.4" y="65">5 &gt;</text><rect class="o" width="154.4" height="72"/></g>
<g id="abhab_plot_physical_info" transform="translate(553.2,4028.9)"><rect class="h" width="169.2" height="24"/><text class="t c" x="84.6" y="17">abhab_plot_physical_info</text><rect class="w" y="24" width="169.2" height="24"/><text class="t" x="5" y="41">...</text><rect class="f" y="48" width="56" height="24"/><rect class="f" x="56" y="48" width="81.2" height="24"/><rect class="f" x="137.2" y="48" width="32" height="24"/><text class="t" x="4" y="65">&lt; 5</text><text class="t r" x="133.2" y="65">173 rows</text><rect class="o" width="169.2" height="72"/></g>
<g id="checklist_supplemental_sitewide_active" transform="translate(506.5,4164.9)"><rect class="h" width="261.4" height="24"/><text class="t c" x="130.7" y="17">checklist_supplemental_sitewide_active</text><rect class="w" y="24" width="261.4" height="24"/><text class="t" x="5" y="41">...</text><rect class="f" y="48" width="102.7" height="24"/><rect class="f" x="102.7" y="48" width="103.9" height="24"/><rect class="f" x="206.6" y="48" width="54.8" height="24"/><text class="t" x="4" y="65">&lt; 2</text><text class="t r" x="202.6" y="65">845 rows</text><rect class="o" width="261.4" height="72"/></g>
<g id="funding_history" transform="translate(579.7,4336.7)"><rect class="h" width="114.9" height="24"/><text class="t c" x="57.4" y="17">funding_history</text><rect class="w" y="24" width="114.9" height="24"/><text class="t" x="5" y="41">...</text><rect class="f" y="48" width="29.5" height="24"/><rect class="f" x="29.5" y="48" width="67.8" height="24"/><rect class="f" x="97.3" y="48" width="17.6" height="24"/><text class="t" x="4" y="65">&lt; 3</text><text class="t r" x="93.3" y="65">304 rows</text><rect class="o" width="114.9" height="72"/></g>
<g id="abalone_group_site_species" transform="translate(542.3,4472.9)"><rect class="h" width="191.1" height="24"/><text class="t c" x="95.5" y="17">abalone_group_site_species</text><rect class="w" y="24" width="191.1" height="24"/><text class="t" x="5" y="41">...</text><rect class="f" y="48" width="61.4" height="24"/><rect class="f" x="61.4" y="48" width="84.6" height="24"/><rect class="f" x="146" y="48" width="45.1" height="24"/><text class="t" x="4" y="65">&lt; 3</text><text class="t r" x="142" y="65">281 rows</text><text class="t r" x="187.1" y="65">6 &gt;</text><rect class="o" width="191.1" height="72"/></g>
<g id="abalone_group_site_species_active" transform="translate(520,4573.2)"><rect class="h" width="236.1" height="24"/><text class="t c" x="118" y="17">abalone_group_site_species_active</text><rect class="w" y="24" width="236.1" height="24"/><text class="t" x="5" y="41">...</text><rect class="f" y="48" width="83.7" height="24"/><rect class="f" x="83.7" y="48" width="95.1" height="24"/><rect class="f" x="178.8" y="48" width="57.3" height="24"/><text class="t" x="4" y="65">&lt; 3</text><text class="t r" x="174.8" y="65">283 rows</text><text class="t r" x="232.1" y="65">6 &gt;</text><rect class="o" width="236.1" height="72"/></g>
<g id="marine_group_sites" transform="translate(570.5,4672.9)"><rect class="h" width="134.7" height="24"/><text class="t c" x="67.3" y="17">marine_group_sites</text><rect class="w" y="24" width="134.7" height="24"/><text class="t" x="5" y="41">...</text><rect class="f" y="48" width="38.7" height="24"/><rect class="f" x="38.7" y="48" width="73.2" height="24"/><rect class="f" x="111.9" y="48" width="22.8" height="24"/><text class="t" x="4" y="65">&lt; 2</text><text class="t r" x="107.9" y="65">335 rows</text><rect class="o" width="134.7" height="72"/></g>
<g id="marine_subgroups" transform="translate(573,4773.2)"><rect class="h" width="128" height="24"/><text class="t c" x="64" y="17">marine_subgroups</text><rect class="w" y="24" width="128" height="24"/><text class="t" x="5" y="41">...</text><rect class="f" y="48" width="40" height="24"/><rect class="f" x="40" y="48" width="65.6" height="24"/><rect class="f" x="105.6" y="48" width="22.4" height="24"/><text class="t" x="4" y="65">&lt; 2</text><text class="t r" x="101.6" y="65">47 rows</text><rect class="o" width="128" height="72"/></g>
<g id="restricted_site_reference" transform="translate(554.5,4872.9)"><rect class="h" width="166.6" height="24"/><text class="t c" x="83.3" y="17">restricted_site_reference</text><rect class="w" y="24" width="166.6" height="24"/><text class="t" x="5" y="41">...</text><rect class="f" y="48" width="62.7" height="24"/><rect class="f" x="62.7" y="48" width="69.4" height="24"/><rect class="f" x="132.1" y="48" width="34.5" height="24"/><text class="t" x="4" y="65">&lt; 1</text><text class="t r" x="128.1" y="65">5 rows</text><rect class="o" width="166.6" height="72"/></g>
<g id="site_not_sampled" transform="translate(577.2,4973.2)"><rect class="h" width="121.2" height="24"/><text class="t c" x="60.6" y="17">site_not_sampled</text><rect class="w" y="24" width="121.2" height="24"/><text class="t" x="5" y="41">...</text><rect class="f" y="48" width="35.8" height="24"/><rect class="f" x="35.8" y="48" width="64" height="24"/><rect class="f" x="99.8" y="48" width="21.4" height="24"/><text class="t" x="4" y="65">&lt; 3</text><text class="t r" x="95.8" y="65">92 rows</text><rect class="o" width="121.2" height="72"/></g>
<g id="site_not_sampled_active" transform="translate(554.5,5072.9)"><rect class="h" width="165.4" height="24"/><text class="t c" x="82.7" y="17">site_not_sampled_active</text><rect class="w" y="24" width="165.4" height="24"/><text class="t" x="5" y="41">...</text><rect class="f" y="48" width="62.7" height="24"/><rect class="f" x="62.7" y="48" width="67.8" height="24"/><rect class="f" x="130.5" y="48" width="34.9" height="24"/><text class="t" x="4" y="65">&lt; 3</text><text class="t r" x="126.5" y="65">0 rows</text><rect class="o" width="165.4" height="72"/></g>
<g id="checklist_supplemental_sitewide" transform="translate(529,5209)"><rect class="h" width="216.4" height="24"/><text class="t c" x="108.2" y="17">checklist_supplemental_sitewide</text><rect class="w" y="24" width="216.4" height="24"/><text class="t" x="5" y="41">...</text><rect class="f" y="48" width="80.2" height="24"/><rect class="f" x="80.2" y="48" width="93.4" height="24"/><rect class="f" x="173.6" y="48" width="42.8" height="24"/><text class="t" x="4" y="65">&lt; 2</text><text class="t r" x="169.6" y="65">833 rows</text><rect class="o" width="216.4" height="72"/></g>

<g id="abhab_segment_info_active" transform="translate(857.5,535.7)"><rect class="h" width="188.5" height="24"/><text class="t c" x="94.2" y="17">abhab_segment_info_active</text><rect class="w" y="24" width="188.5" height="24"/><text class="t" x="5" y="41">...</text><rect class="f" y="48" width="64" height="24"/><rect class="f" x="64" y="48" width="70" height="24"/><rect class="f" x="134" y="48" width="54.5" height="24"/><text class="t" x="4" y="65">&lt; 9</text><text class="t r" x="130" y="65">0 rows</text><text class="t r" x="184.5" y="65">12 &gt;</text><rect class="o" width="188.5" height="72"/></g>
<g id="abhab_plots_count_sizes" transform="translate(866.8,707.5)"><rect class="h" width="170" height="24"/><text class="t c" x="85" y="17">abhab_plots_count_sizes</text><rect class="w" y="24" width="170" height="24"/><text class="t" x="5" y="41">...</text><rect class="f" y="48" width="54.7" height="24"/><rect class="f" x="54.7" y="48" width="88.4" height="24"/><rect class="f" x="143.1" y="48" width="26.9" height="24"/><text class="t" x="4" y="65">&lt; 13</text><text class="t r" x="139.1" y="65">1,947 rows</text><rect class="o" width="170" height="72"/></g>
<g id="abhab_plots_count_sizes_active" transform="translate(844.5,851.6)"><rect class="h" width="215" height="24"/><text class="t c" x="107.5" y="17">abhab_plots_count_sizes_active</text><rect class="w" y="24" width="215" height="24"/><text class="t" x="5" y="41">...</text><rect class="f" y="48" width="90.5" height="24"/><rect class="f" x="90.5" y="48" width="78.7" height="24"/><rect class="f" x="169.2" y="48" width="45.8" height="24"/><text class="t" x="4" y="65">&lt; 13</text><text class="t r" x="165.2" y="65">0 rows</text><rect class="o" width="215" height="72"/></g>
<g id="abhab_segments_count_sizes_active" transform="translate(1135,535.7)"><rect class="h" width="247" height="24"/><text class="t c" x="123.5" y="17">abhab_segments_count_sizes_active</text><rect class="w" y="24" width="247" height="24"/><text class="t" x="5" y="41">...</text><rect class="f" y="48" width="106.7" height="24"/><rect class="f" x="106.7" y="48" width="87" height="24"/><rect class="f" x="193.7" y="48" width="53.3" height="24"/><text class="t" x="4" y="65">&lt; 14</text><text class="t r" x="189.7" y="65">0 rows</text><rect class="o" width="247" height="72"/></g>
<g id="lottia_count_sizes_active" transform="translate(868.5,1019.8)"><rect class="h" width="166.6" height="24"/><text class="t c" x="83.3" y="17">lottia_count_sizes_active</text><rect class="k" y="24" width="166.6" height="24"/><text class="t" x="5" y="41">site_code</text><rect class="k" y="48" width="166.6" height="24"/><text class="t" x="5" y="65">target_assemblage</text><rect class="k" y="72" width="166.6" height="24"/><text class="t" x="5" y="89">plot_code</text><rect class="k" y="96" width="166.6" height="24"/><text class="t" x="5" y="113">species_code</text><rect class="k" y="120" width="166.6" height="24"/><text class="t" x="5" y="137">survey_date</text><rect class="k" y="144" width="166.6" height="24"/><text class="t" x="5" y="161">group_code</text><rect class="k" y="168" width="166.6" height="24"/><text class="t" x="5" y="185">lottia_size_bin</text><rect class="i" y="192" width="166.6" height="24"/><text class="t" x="5" y="209">size_qualifier_code</text><rect class="w" y="216" width="166.6" height="24"/><text class="t" x="5" y="233">lottia_size_count</text><rect class="i" y="240" width="166.6" height="24"/><text class="t" x="5" y="257">count_qualifier_code</text><rect class="i" y="264" width="166.6" height="24"/><text class="t" x="5" y="281">method_code</text><rect class="w" y="288" width="166.6" height="24"/><text class="t" x="5" y="305">create_date</text><rect class="w" y="312" width="166.6" height="24"/><text class="t" x="5" y="329">modify_date</text><rect class="f" y="336" width="66.5" height="24"/><rect class="f" x="66.5" y="336" width="67.3" height="24"/><rect class="f" x="133.8" y="336" width="32.8" height="24"/><text class="t" x="4" y="353">&lt; 12</text><text class="t r" x="129.8" y="353">0 rows</text><rect class="o" width="166.6" height="360"/></g>
<g id="abhab_segment_boundaries_active" transform="translate(833.5,1407.9)"><rect class="h" width="236.5" height="24"/><text class="t c" x="118.2" y="17">abhab_segment_boundaries_active</text><rect class="w" y="24" width="236.5" height="24"/><text class="t" x="5" y="41">...</text><rect class="f" y="48" width="97.7" height="24"/><rect class="f" x="97.7" y="48" width="86.7" height="24"/><rect class="f" x="184.4" y="48" width="52.1" height="24"/><text class="t" x="4" y="65">&lt; 6</text><text class="t r" x="180.4" y="65">0 rows</text><rect class="o" width="236.5" height="72"/></g>
<g id="lottia_notes_active" transform="translate(885.7,1507.6)"><rect class="h" width="130.9" height="24"/><text class="t c" x="65.4" y="17">lottia_notes_active</text><rect class="k" y="24" width="130.9" height="24"/><text class="t" x="5" y="41">site_code</text><rect class="k" y="48" width="130.9" height="24"/><text class="t" x="5" y="65">survey_date</text><rect class="k" y="72" width="130.9" height="24"/><text class="t" x="5" y="89">group_code</text><rect class="k" y="96" width="130.9" height="24"/><text class="t" x="5" y="113">target_assemblage</text><rect class="k" y="120" width="130.9" height="24"/><text class="t" x="5" y="137">plot_code</text><rect class="w" y="144" width="130.9" height="24"/><text class="t" x="5" y="161">lottia_note</text><rect class="w" y="168" width="130.9" height="24"/><text class="t" x="5" y="185">create_date</text><rect class="w" y="192" width="130.9" height="24"/><text class="t" x="5" y="209">modify_date</text><rect class="f" y="216" width="45.5" height="24"/><rect class="f" x="45.5" y="216" width="59.8" height="24"/><rect class="f" x="105.3" y="216" width="25.6" height="24"/><text class="t" x="4" y="233">&lt; 6</text><text class="t r" x="101.3" y="233">0 rows</text><rect class="o" width="130.9" height="240"/></g>
<g id="abhab_plot_habitat_info_active" transform="translate(848.2,1984.2)"><rect class="h" width="206.7" height="24"/><text class="t c" x="103.3" y="17">abhab_plot_habitat_info_active</text><rect class="w" y="24" width="206.7" height="24"/><text class="t" x="5" y="41">...</text><rect class="f" y="48" width="82.5" height="24"/><rect class="f" x="82.5" y="48" width="78.7" height="24"/><rect class="f" x="161.2" y="48" width="45.5" height="24"/><text class="t" x="4" y="65">&lt; 7</text><text class="t r" x="157.2" y="65">0 rows</text><rect class="o" width="206.7" height="72"/></g>
<g id="checklist_entered" transform="translate(884.4,2485)"><rect class="h" width="134.7" height="24"/><text class="t c" x="67.3" y="17">checklist_entered</text><rect class="w" y="24" width="134.7" height="24"/><text class="t" x="5" y="41">...</text><rect class="f" y="48" width="29.1" height="24"/><rect class="f" x="29.1" y="48" width="87.9" height="24"/><rect class="f" x="117" y="48" width="17.7" height="24"/><text class="t" x="4" y="65">&lt; 6</text><text class="t r" x="113" y="65">77,335 rows</text><rect class="o" width="134.7" height="72"/></g>
<g id="checklist_not_sampled" transform="translate(875.2,2584.7)"><rect class="h" width="153.2" height="24"/><text class="t c" x="76.6" y="17">checklist_not_sampled</text><rect class="w" y="24" width="153.2" height="24"/><text class="t" x="5" y="41">...</text><rect class="f" y="48" width="38.3" height="24"/><rect class="f" x="38.3" y="48" width="92.6" height="24"/><rect class="f" x="130.9" y="48" width="22.3" height="24"/><text class="t" x="4" y="65">&lt; 6</text><text class="t r" x="126.9" y="65">25,243 rows</text><rect class="o" width="153.2" height="72"/></g>
<g id="checklist_sampled" transform="translate(884.4,2684.7)"><rect class="h" width="134.7" height="24"/><text class="t c" x="67.3" y="17">checklist_sampled</text><rect class="w" y="24" width="134.7" height="24"/><text class="t" x="5" y="41">...</text><rect class="f" y="48" width="29.1" height="24"/><rect class="f" x="29.1" y="48" width="87.9" height="24"/><rect class="f" x="117" y="48" width="17.7" height="24"/><text class="t" x="4" y="65">&lt; 6</text><text class="t r" x="113" y="65">85,232 rows</text><rect class="o" width="134.7" height="72"/></g>
<g id="nps_entered" transform="translate(884.4,2784.9)"><rect class="h" width="134.7" height="24"/><text class="t c" x="67.3" y="17">nps_entered</text><rect class="w" y="24" width="134.7" height="24"/><text class="t" x="5" y="41">...</text><rect class="f" y="48" width="29.1" height="24"/><rect class="f" x="29.1" y="48" width="87.9" height="24"/><rect class="f" x="117" y="48" width="17.7" height="24"/><text class="t" x="4" y="65">&lt; 6</text><text class="t r" x="113" y="65">40,246 rows</text><rect class="o" width="134.7" height="72"/></g>
<g id="abhab_segment_boundaries" transform="translate(856.2,2953.4)"><rect class="h" width="190.7" height="24"/><text class="t c" x="95.3" y="17">abhab_segment_boundaries</text><rect class="w" y="24" width="190.7" height="24"/><text class="t" x="5" y="41">...</text><rect class="f" y="48" width="67" height="24"/><rect class="f" x="67" y="48" width="87.1" height="24"/><rect class="f" x="154.1" y="48" width="36.6" height="24"/><text class="t" x="4" y="65">&lt; 6</text><text class="t r" x="150.1" y="65">881 rows</text><rect class="o" width="190.7" height="72"/></g>
<g id="abhab_segment_info" transform="translate(880.2,3053.1)"><rect class="h" width="142.7" height="24"/><text class="t c" x="71.3" y="17">abhab_segment_info</text><rect class="w" y="24" width="142.7" height="24"/><text class="t" x="5" y="41">...</text><rect class="f" y="48" width="33.3" height="24"/><rect class="f" x="33.3" y="48" width="69.4" height="24"/><rect class="f" x="102.7" y="48" width="40" height="24"/><text class="t" x="4" y="65">&lt; 9</text><text class="t r" x="98.7" y="65">226 rows</text><text class="t r" x="138.7" y="65">12 &gt;</text><rect class="o" width="142.7" height="72"/></g>
<g id="abhab_plot_habitat_info" transform="translate(871,3152.9)"><rect class="h" width="161.6" height="24"/><text class="t c" x="80.8" y="17">abhab_plot_habitat_info</text><rect class="w" y="24" width="161.6" height="24"/><text class="t" x="5" y="41">...</text><rect class="f" y="48" width="52.2" height="24"/><rect class="f" x="52.2" y="48" width="79.5" height="24"/><rect class="f" x="131.7" y="48" width="29.9" height="24"/><text class="t" x="4" y="65">&lt; 7</text><text class="t r" x="127.7" y="65">292 rows</text><rect class="o" width="161.6" height="72"/></g>
<g id="photo_plot_info" transform="translate(877.7,3692.8)"><rect class="h" width="146.9" height="24"/><text class="t c" x="73.4" y="17">photo_plot_info</text><rect class="w" y="24" width="146.9" height="24"/><text class="t" x="5" y="41">...</text><rect class="f" y="48" width="29.5" height="24"/><rect class="f" x="29.5" y="48" width="79.9" height="24"/><rect class="f" x="109.4" y="48" width="37.5" height="24"/><text class="t" x="4" y="65">&lt; 3</text><text class="t r" x="105.4" y="65">2,352 rows</text><text class="t r" x="142.9" y="65">20 &gt;</text><rect class="o" width="146.9" height="72"/></g>
<g id="abhab_segments_count_sizes" transform="translate(1157.7,2869)"><rect class="h" width="201.6" height="24"/><text class="t c" x="100.8" y="17">abhab_segments_count_sizes</text><rect class="w" y="24" width="201.6" height="24"/><text class="t" x="5" y="41">...</text><rect class="f" y="48" width="71" height="24"/><rect class="f" x="71" y="48" width="96.3" height="24"/><rect class="f" x="167.3" y="48" width="34.3" height="24"/><text class="t" x="4" y="65">&lt; 14</text><text class="t r" x="163.3" y="65">3,095 rows</text><rect class="o" width="201.6" height="72"/></g>

<g id="quatraplot_codes" transform="translate(275.3,1511.6)"><rect class="h" width="123.7" height="24"/><text class="t c" x="61.8" y="17">quatraplot_codes</text><rect class="w" y="24" width="123.7" height="24"/><text class="t" x="5" y="41">...</text><rect class="f" y="48" width="17.7" height="24"/><rect class="f" x="17.7" y="48" width="68.3" height="24"/><rect class="f" x="86" y="48" width="37.7" height="24"/><text class="t r" x="82" y="65">535 rows</text><text class="t r" x="119.7" y="65">29 &gt;</text><rect class="o" width="123.7" height="72"/></g>
<g id="target_assemblages" transform="translate(233,2330.3)"><rect class="h" width="208.7" height="24"/><text class="t c" x="104.3" y="17">target_assemblages</text><rect class="k" y="24" width="208.7" height="24"/><text class="t" x="5" y="41">target_assemblage</text><rect class="w" y="48" width="208.7" height="24"/><text class="t" x="5" y="65">active_status</text><rect class="w" y="72" width="208.7" height="24"/><text class="t" x="5" y="89">target_assemblage_description</text><rect class="w" y="96" width="208.7" height="24"/><text class="t" x="5" y="113">create_date</text><rect class="w" y="120" width="208.7" height="24"/><text class="t" x="5" y="137">modify_date</text><rect class="f" y="144" width="64" height="24"/><rect class="f" x="64" y="144" width="82.7" height="24"/><rect class="f" x="146.7" y="144" width="62" height="24"/><text class="t r" x="142.7" y="161">30 rows</text><text class="t r" x="204.7" y="161">36 &gt;</text><rect class="o" width="208.7" height="168"/></g>
<g id="count_size_plot_codes" transform="translate(261,2734.8)"><rect class="h" width="154" height="24"/><text class="t c" x="77" y="17">count_size_plot_codes</text><rect class="k" y="24" width="154" height="24"/><text class="t" x="5" y="41">plot_code</text><rect class="w" y="48" width="154" height="24"/><text class="t" x="5" y="65">create_date</text><rect class="f" y="72" width="36" height="24"/><rect class="f" x="36" y="72" width="69.7" height="24"/><rect class="f" x="105.7" y="72" width="48.3" height="24"/><text class="t r" x="101.7" y="89">45 rows</text><text class="t r" x="150" y="89">14 &gt;</text><rect class="o" width="154" height="96"/></g>
<g id="marine_sites" transform="translate(270.3,3592.7)"><rect class="h" width="135" height="24"/><text class="t c" x="67.5" y="17">marine_sites</text><rect class="k" y="24" width="135" height="24"/><text class="t" x="5" y="41">site_code</text><rect class="w" y="48" width="135" height="24"/><text class="t" x="5" y="65">established_date</text><rect class="w" y="72" width="135" height="24"/><text class="t" x="5" y="89">ltm_latitude</text><rect class="w" y="96" width="135" height="24"/><text class="t" x="5" y="113">ltm_longitude</text><rect class="f" y="120" width="29.7" height="24"/><rect class="f" x="29.7" y="120" width="67.7" height="24"/><rect class="f" x="97.4" y="120" width="37.6" height="24"/><text class="t" x="4" y="137">&lt; 1</text><text class="t r" x="93.4" y="137">292 rows</text><text class="t r" x="131" y="137">41 &gt;</text><rect class="o" width="135" height="144"/></g>
<g id="master_site_reference" transform="translate(15.7,3592.7)"><rect class="h" width="152.6" height="24"/><text class="t c" x="76.3" y="17">master_site_reference</text><rect class="w" y="24" width="152.6" height="24"/><text class="t" x="5" y="41">...</text><rect class="f" y="48" width="36.3" height="24"/><rect class="f" x="36.3" y="48" width="77.3" height="24"/><rect class="f" x="113.6" y="48" width="39" height="24"/><text class="t r" x="109.6" y="65">422 rows</text><text class="t r" x="148.6" y="65">9 &gt;</text><rect class="o" width="152.6" height="72"/></g>

<text class="t" x="16.3" y="5396" style="font-size:14.3px">Generated by SchemaSpy</text>
</g>
</svg>
